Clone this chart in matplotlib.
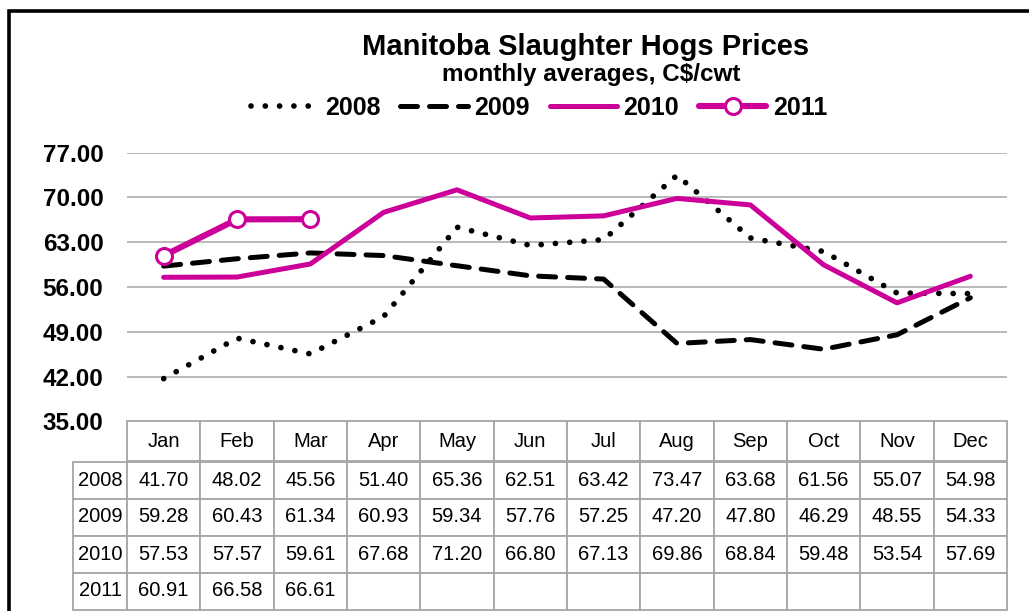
import matplotlib
matplotlib.use('Agg')
import matplotlib.pyplot as plt
from matplotlib.patches import Rectangle

plt.rcParams['font.family'] = ['Liberation Sans', 'DejaVu Sans']

# chart data
months = ['Jan', 'Feb', 'Mar', 'Apr', 'May', 'Jun', 'Jul', 'Aug', 'Sep', 'Oct', 'Nov', 'Dec']
years = ['2008', '2009', '2010', '2011']
prices_2008 = [41.70, 48.02, 45.56, 51.40, 65.36, 62.51, 63.42, 73.47, 63.68, 61.56, 55.07, 54.98]
prices_2009 = [59.28, 60.43, 61.34, 60.93, 59.34, 57.76, 57.25, 47.20, 47.80, 46.29, 48.55, 54.33]
prices_2010 = [57.53, 57.57, 59.61, 67.68, 71.20, 66.80, 67.13, 69.86, 68.84, 59.48, 53.54, 57.69]
prices_2011 = [60.91, 66.58, 66.61]
y_ticks = [35, 42, 49, 56, 63, 70, 77]

MAGENTA = '#CC0099'
GRID = '#A6A6A6'

W, H = 1029, 611
fig = plt.figure(figsize=(W / 100, H / 100), dpi=100)

# plot area in pixels: x 127..1007, y 152.7..421.5 (from top)
left, right, top, bottom = 127, 1007, 152.7, 421.5
ax_w, ax_h = right - left, bottom - top
ax = fig.add_axes([left / W, 1 - bottom / H, ax_w / W, ax_h / H])

x = list(range(len(months)))
ax.plot(x, prices_2008, color='black', lw=4.1, linestyle=(0, (0.01, 2.5)),
        dash_capstyle='round', label='2008', zorder=3)
ax.plot(x, prices_2009, color='black', lw=3.6, linestyle=(0, (3.4, 2.4)),
        dash_capstyle='round', label='2009', zorder=3)
ax.plot(x, prices_2010, color=MAGENTA, lw=3.6, solid_capstyle='round',
        solid_joinstyle='round', label='2010', zorder=4)
ax.plot(x[:len(prices_2011)], prices_2011, color=MAGENTA, lw=4.4, marker='o',
        markersize=11.5, markerfacecolor='white', markeredgecolor=MAGENTA,
        markeredgewidth=2.2, solid_capstyle='round', label='2011', zorder=5)

ax.set_xlim(-0.5, len(months) - 0.5)
ax.set_ylim(35, 77)
ax.set_yticks(y_ticks)
ax.set_yticklabels([f'{v:.2f}' for v in y_ticks], fontsize=17.5, fontweight='bold')
ax.tick_params(axis='y', length=0, pad=17)
ax.set_xticks([])
for s in ax.spines.values():
    s.set_visible(False)
for v in y_ticks[1:]:
    ax.axhline(v, color=GRID, lw=1.1, zorder=1)

# data table right under the plot, row labels hang to the left
cell_text = [[f'{v:.2f}' for v in prices_2008],
             [f'{v:.2f}' for v in prices_2009],
             [f'{v:.2f}' for v in prices_2010],
             [f'{v:.2f}' for v in prices_2011] + [''] * (len(months) - len(prices_2011))]
tbl = ax.table(cellText=cell_text, rowLabels=years, colLabels=months,
               cellLoc='center', rowLoc='center', loc='bottom')
tbl.auto_set_font_size(False)
for (r, c), cell in tbl.get_celld().items():
    cell.set_edgecolor(GRID)
    cell.set_linewidth(1.3)
    cell.set_width((67 if c == -1 else ax_w / len(months)) / ax_w)
    cell.set_height((40 if r == 0 else 37) / ax_h)
    cell.get_text().set_fontsize(14.5)

# titles
fig.text(586 / W, 1 - 47 / H, 'Manitoba Slaughter Hogs Prices', ha='center', va='center',
         fontsize=21, fontweight='bold')
fig.text(591 / W, 1 - 75 / H, 'monthly averages, C$/cwt', ha='center', va='center',
         fontsize=17.5, fontweight='bold')

fig.legend(loc='center', bbox_to_anchor=(539 / W, 1 - 108 / H), ncol=4, frameon=False,
           prop={'weight': 'bold', 'size': 18}, handlelength=2.7, handletextpad=0.25,
           columnspacing=0.8, borderpad=0)

# outer frame, cropped at right and bottom
fig.patches.append(Rectangle((9 / W, -0.05), 1.2, 1 - 11.5 / H + 0.05, transform=fig.transFigure,
                             fill=False, edgecolor='black', lw=2.6, zorder=10))

fig.savefig('out.png', dpi=100)
